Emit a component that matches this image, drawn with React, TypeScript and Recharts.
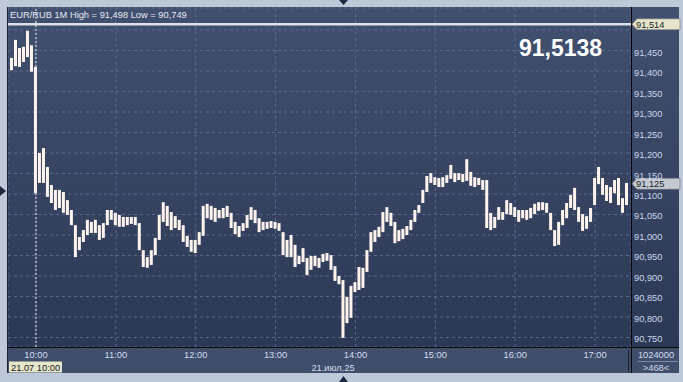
import { Bar, CartesianGrid, ComposedChart, ReferenceLine, XAxis, YAxis } from "recharts"

const title = "EUR/RUB 1M High = 91,498 Low = 90,749"
const lastQuote = "91,5138"
const sessionStart = "09:39"
const sessionEnd = "17:27"
const firstBarTime = "09:42"
const barStepMin = 3
const hourLabels = ["10:00", "11:00", "12:00", "13:00", "14:00", "15:00", "16:00", "17:00"]
const priceTicks = [90.75, 90.8, 90.85, 90.9, 90.95, 91.0, 91.05, 91.1, 91.15, 91.2, 91.25, 91.3, 91.35, 91.4, 91.45, 91.5]
const linePrice = 91.514
const closePrice = 91.125
const cursorTime = "10:00"
const cursorLabel = "21.07 10:00"
const dateLabel = "21.июл.25"
const volumeLabel = "1024000"
const barCountLabel = ">468<"

const highs = [
  91.432, 91.476, 91.456, 91.459, 91.498, 91.463, 91.41, 91.2, 91.212, 91.166,
  91.122, 91.11, 91.11, 91.105, 91.085, 91.061, 91.024, 90.995, 91.012, 91.037,
  91.032, 91.037, 91.024, 91.029, 91.061, 91.061, 91.054, 91.049, 91.044, 91.044,
  91.044, 91.044, 91.029, 90.963, 90.946, 90.963, 90.993, 91.049, 91.08, 91.071,
  91.056, 91.046, 91.037, 91.024, 90.998, 90.988, 90.988, 91.007, 91.071, 91.076,
  91.071, 91.066, 91.061, 91.066, 91.071, 91.054, 91.032, 91.022, 91.029, 91.049,
  91.068, 91.061, 91.041, 91.032, 91.032, 91.034, 91.032, 91.029, 91.007, 90.988,
  91.0, 90.976, 90.949, 90.968, 90.944, 90.949, 90.949, 90.944, 90.954, 90.956,
  90.951, 90.924, 90.9, 90.89, 90.849, 90.876, 90.885, 90.922, 90.92, 90.963,
  91.007, 91.012, 91.02, 91.056, 91.068, 91.054, 91.032, 91.012, 91.015, 91.022,
  91.037, 91.061, 91.073, 91.11, 91.144, 91.151, 91.141, 91.139, 91.141, 91.146,
  91.171, 91.151, 91.151, 91.149, 91.185, 91.154, 91.141, 91.139, 91.134, 91.134,
  91.054, 91.044, 91.068, 91.056, 91.085, 91.078, 91.068, 91.061, 91.061, 91.061,
  91.066, 91.076, 91.08, 91.08, 91.078, 91.054, 91.012, 91.032, 91.061, 91.078,
  91.098, 91.115, 91.068, 91.051, 91.046, 91.066, 91.139, 91.166, 91.139, 91.122,
  91.117, 91.134, 91.139, 91.09, 91.127,
]

const lows = [
  91.402, 91.412, 91.41, 91.422, 91.434, 91.398, 91.102, 91.127, 91.127, 91.093,
  91.078, 91.061, 91.066, 91.054, 91.049, 91.024, 90.946, 90.963, 90.983, 91.0,
  91.005, 91.005, 90.988, 90.993, 91.024, 91.037, 91.024, 91.02, 91.02, 91.024,
  91.027, 91.024, 90.963, 90.922, 90.92, 90.927, 90.951, 90.988, 91.032, 91.022,
  91.012, 91.017, 91.012, 90.983, 90.971, 90.959, 90.956, 90.976, 90.998, 91.041,
  91.037, 91.032, 91.041, 91.041, 91.044, 91.017, 91.002, 90.995, 91.01, 91.017,
  91.037, 91.029, 91.007, 91.012, 91.015, 91.017, 91.015, 91.01, 90.951, 90.946,
  90.946, 90.922, 90.929, 90.934, 90.902, 90.915, 90.924, 90.92, 90.934, 90.937,
  90.915, 90.888, 90.88, 90.749, 90.785, 90.798, 90.861, 90.866, 90.871, 90.91,
  90.959, 90.983, 90.995, 91.007, 91.032, 91.022, 90.98, 90.985, 90.99, 91.0,
  91.012, 91.032, 91.054, 91.078, 91.105, 91.127, 91.122, 91.117, 91.117, 91.127,
  91.137, 91.129, 91.134, 91.129, 91.132, 91.12, 91.117, 91.122, 91.11, 91.017,
  91.012, 91.017, 91.037, 91.037, 91.051, 91.049, 91.044, 91.032, 91.041, 91.037,
  91.041, 91.051, 91.059, 91.061, 91.054, 91.012, 90.973, 90.976, 91.024, 91.041,
  91.066, 91.061, 91.032, 91.01, 91.015, 91.032, 91.073, 91.124, 91.098, 91.083,
  91.078, 91.102, 91.073, 91.054, 91.073,
]

const FONT = "'Liberation Sans', Arial, sans-serif"

function toMin(t: string) {
  const [h, m] = t.split(":").map(Number)
  return h * 60 + m
}

const t0 = toMin(sessionStart)
const data = highs.map((h, i) => ({
  m: toMin(firstBarTime) - t0 + i * barStepMin,
  range: [lows[i], h],
}))
const hourTicks = hourLabels.map((l) => toMin(l) - t0)
const fmt = (v: number) => v.toFixed(3).replace(".", ",")

const XTick = (props: any) => {
  const { x, payload } = props
  const label = hourLabels[hourTicks.indexOf(payload.value)]
  return (
    <text x={x} y={358} textAnchor="middle" fill="#d3ddf0" fontSize={9.3} fontFamily={FONT}>
      {label}
    </text>
  )
}

const YTick = (props: any) => {
  const { y, payload } = props
  if (payload.value >= 91.5) return <g />
  return (
    <text x={634} y={y + 5} textAnchor="start" fill="#cbd6ee" fontSize={9.3} fontFamily={FONT}>
      {fmt(payload.value)}
    </text>
  )
}

const priceBox = (text: string, fill: string) => (props: any) => {
  const { viewBox } = props
  const c = viewBox.y
  const x0 = viewBox.x + viewBox.width + 1
  return (
    <g>
      <polygon
        points={`${x0},${c} ${x0 + 5},${c - 5.5} ${x0 + 48},${c - 5.5} ${x0 + 48},${c + 5.5} ${x0 + 5},${c + 5.5}`}
        fill={fill}
        stroke="#6b6e78"
        strokeWidth={0.6}
      />
      <text x={x0 + 4} y={c + 3.5} fill="#141a28" fontSize={9.3} fontFamily={FONT}>
        {text}
      </text>
    </g>
  )
}

export default function App() {
  return (
    <div style={{ position: "absolute", left: 0, top: 0, width: 683, height: 382, background: "#bdc9d8", overflow: "hidden" }}>
      <div style={{ position: "absolute", left: 7, top: 7, width: 672, height: 366, background: "#3f4e6b" }} />
      <div
        style={{
          position: "absolute",
          left: 8,
          top: 8,
          width: 671,
          height: 339,
          background: "linear-gradient(#41506e, #2c3955)",
        }}
      />
      <div style={{ position: "absolute", left: 0, top: 0 }}>
        <ComposedChart width={683} height={382} data={data} margin={{ top: 8, right: 4, bottom: 9, left: 8 }}>
          <CartesianGrid stroke="#5a6a8a" strokeDasharray="3 3" />
          <XAxis
            type="number"
            dataKey="m"
            domain={[0, toMin(sessionEnd) - t0]}
            ticks={hourTicks}
            interval={0}
            tick={<XTick />}
            axisLine={false}
            tickLine={false}
            height={26}
            allowDataOverflow
          />
          <YAxis
            orientation="right"
            domain={[90.7268, 91.5537]}
            ticks={priceTicks}
            interval={0}
            tick={<YTick />}
            axisLine={false}
            tickLine={false}
            width={48}
            allowDataOverflow
          />
          <ReferenceLine x={toMin(cursorTime) - t0} stroke="#eef0f4" strokeDasharray="2 2" />
          <Bar dataKey="range" fill="#fff3ee" barSize={3} isAnimationActive={false} />
          <ReferenceLine y={linePrice} stroke="#dde1e8" strokeWidth={2.5} label={priceBox(fmt(linePrice), "#e7e5c9")} />
          <ReferenceLine y={closePrice} stroke="none" label={priceBox(fmt(closePrice), "#c5c9d2")} />
        </ComposedChart>
      </div>
      <svg width={683} height={382} style={{ position: "absolute", left: 0, top: 0, pointerEvents: "none" }}>
        <line x1={7.5} y1={7} x2={7.5} y2={373} stroke="#1c2536" />
        <line x1={631.5} y1={7} x2={631.5} y2={373} stroke="#05070c" />
        <line x1={7} y1={347.5} x2={679} y2={347.5} stroke="#05070c" />
        <line x1={628.5} y1={350} x2={628.5} y2={372} stroke="#1c2536" />
        <line x1={638} y1={361.5} x2={678} y2={361.5} stroke="#7d8aa3" />
        <polygon points="339,0 348,0 343.5,5" fill="#1e2940" />
        <polygon points="339,382 348,382 343.5,376" fill="#1e2940" />
        <polygon points="0,186 0,196 6,191" fill="#1e2940" />
        <text x={10} y={18.3} fill="#e6ebf5" fontSize={9.3} fontFamily={FONT}>
          {title}
        </text>
        <text x={519} y={56} fill="#ffffff" fontSize={23} fontWeight="bold" fontFamily={FONT}>
          {lastQuote}
        </text>
        <rect x={9} y={361.5} width={53} height={11} fill="#e8e6c9" />
        <text x={11} y={370.5} fill="#141a28" fontSize={9.3} fontFamily={FONT}>
          {cursorLabel}
        </text>
        <text x={333} y={371} textAnchor="middle" fill="#d3ddf0" fontSize={9.3} fontFamily={FONT}>
          {dateLabel}
        </text>
        <text x={656} y={358} textAnchor="middle" fill="#d3ddf0" fontSize={9.3} fontFamily={FONT}>
          {volumeLabel}
        </text>
        <text x={656} y={370.5} textAnchor="middle" fill="#d3ddf0" fontSize={9.3} fontFamily={FONT}>
          {barCountLabel}
        </text>
      </svg>
    </div>
  )
}
